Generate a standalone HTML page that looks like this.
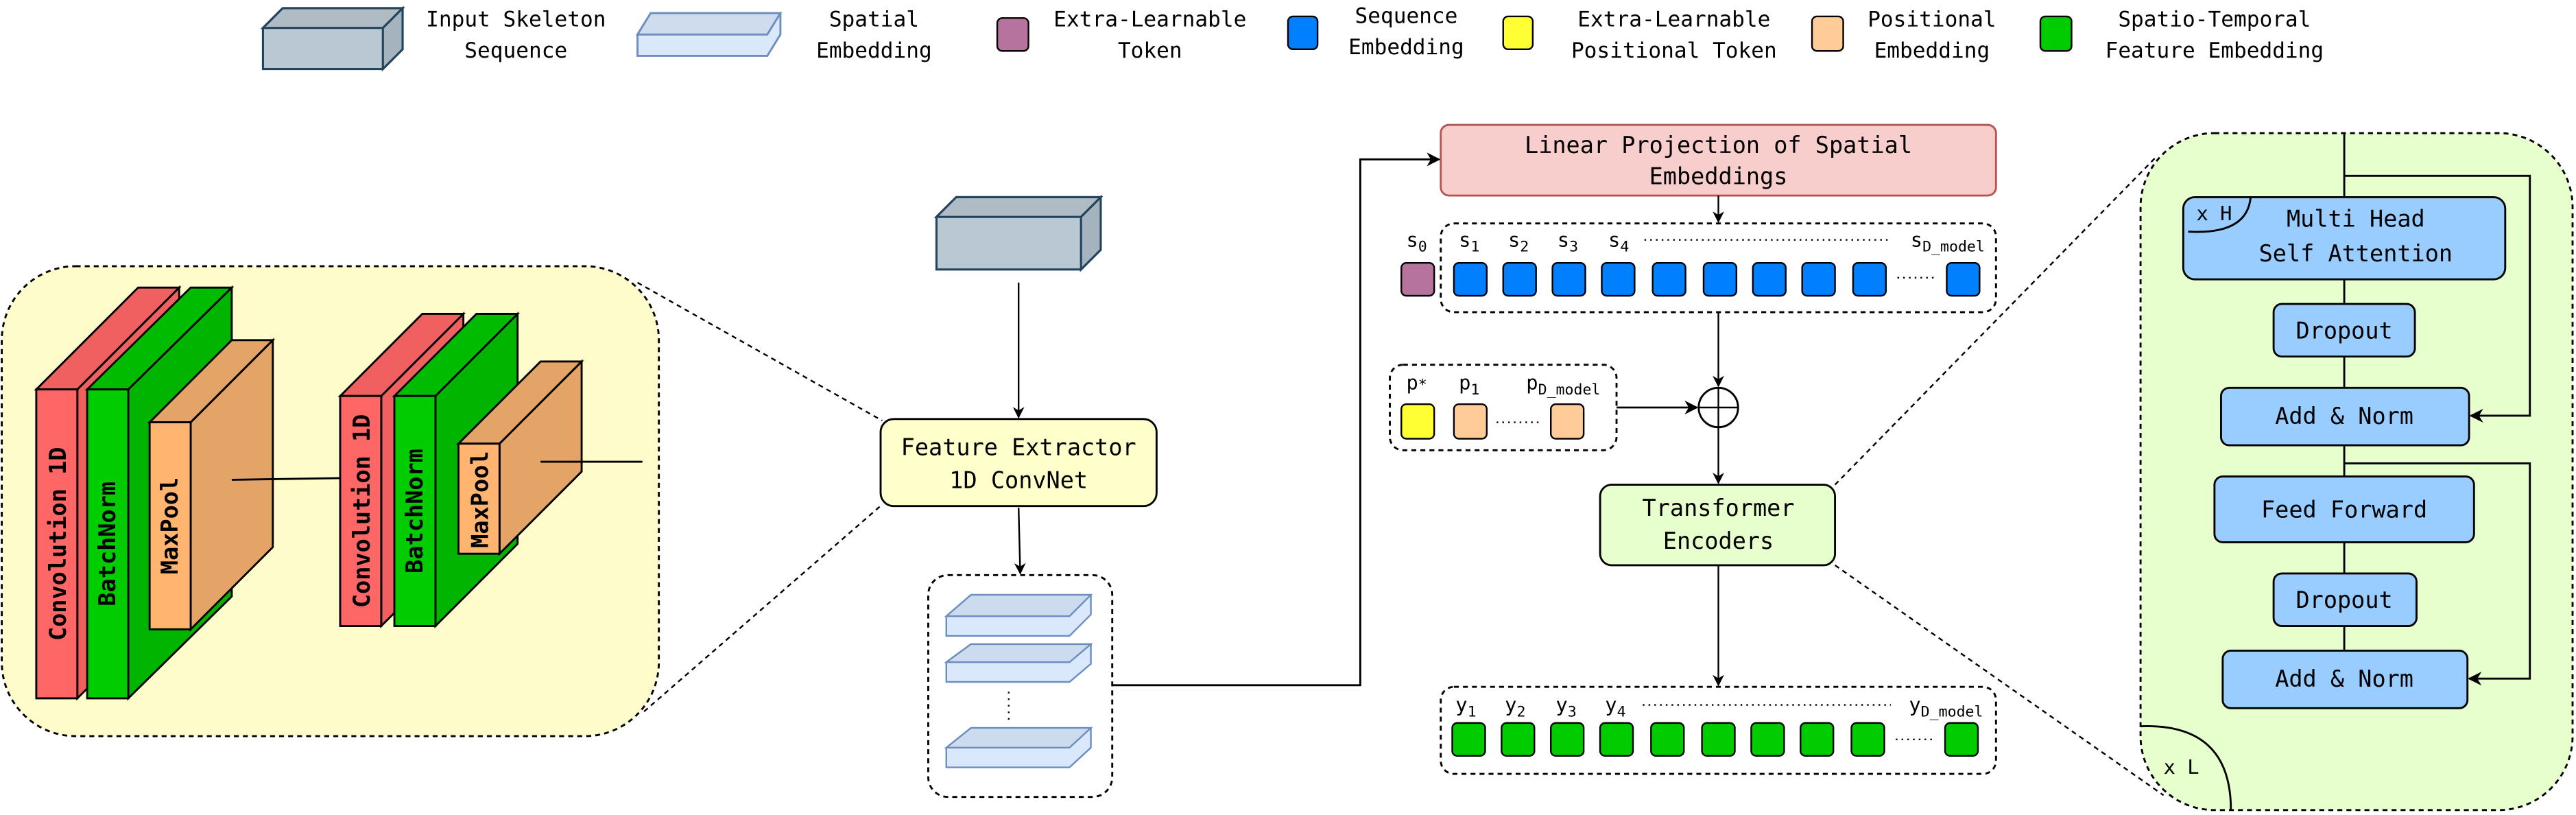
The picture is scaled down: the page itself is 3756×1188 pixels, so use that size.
<!DOCTYPE html>
<html><head><meta charset="utf-8"><style>html,body{margin:0;padding:0;background:#fff}svg{display:block}</style></head>
<body>
<svg width="3756" height="1188" viewBox="0 0 1568 496" xmlns="http://www.w3.org/2000/svg" font-family="'DejaVu Sans Mono','Liberation Mono',monospace">
<defs>
<marker id="a" viewBox="0 0 10 10" refX="9" refY="5" markerWidth="7" markerHeight="7" orient="auto"><path d="M0,0 L10,5 L0,10 L3,5 z" fill="#000"/></marker>
</defs>
<g font-size="13" text-anchor="middle" fill="#000">
<polygon points="160,17 172,5 245,5 245,30 233,42 160,42" fill="#bac8d3" stroke="#23445d" stroke-width="1.3"/>
<polygon points="160,17 172,5 245,5 233,17" fill="#b0bcc5" stroke="#23445d" stroke-width="1.3"/>
<polygon points="233,17 245,5 245,30 233,42" fill="#a5b3be" stroke="#23445d" stroke-width="1.3"/>
<text x="314" y="16">Input Skeleton</text><text x="314" y="35">Sequence</text>
<polygon points="388,21 396,8 475,8 475,21 467,34 388,34" fill="#dae8fc" stroke="#6c8ebf" stroke-width="1.2"/>
<polygon points="388,21 396,8 475,8 467,21" fill="#cfdcee" stroke="#6c8ebf" stroke-width="1.2"/>
<text x="532" y="16">Spatial</text><text x="532" y="35">Embedding</text>
<rect x="607" y="11" width="19" height="20" rx="3" fill="#b5739d" stroke="#000"/>
<text x="700" y="16">Extra-Learnable</text><text x="700" y="35">Token</text>
<rect x="784" y="10" width="18" height="20" rx="3" fill="#007fff" stroke="#000"/>
<text x="856" y="14">Sequence</text><text x="856" y="33">Embedding</text>
<rect x="915" y="10" width="18" height="20" rx="3" fill="#ffff33" stroke="#000"/>
<text x="1019" y="16">Extra-Learnable</text><text x="1019" y="35">Positional Token</text>
<rect x="1103" y="10" width="19" height="21" rx="3" fill="#ffcc99" stroke="#000"/>
<text x="1176" y="16">Positional</text><text x="1176" y="35">Embedding</text>
<rect x="1242" y="10" width="19" height="21" rx="3" fill="#00cc00" stroke="#000"/>
<text x="1348" y="16">Spatio-Temporal</text><text x="1348" y="35">Feature Embedding</text>
</g>

<rect x="1" y="162" width="400" height="286" rx="45" fill="#fffccc" stroke="#000" stroke-dasharray="3,2.5" stroke-width="1.2"/>
<line x1="388" y1="172" x2="537" y2="256" stroke="#000" stroke-dasharray="3,2.5"/>
<line x1="392" y1="433" x2="537" y2="307" stroke="#000" stroke-dasharray="3,2.5"/>
<g stroke="#000" stroke-width="1.2">
<polygon points="47,237 109,175 109,363 47,425" fill="#f06060"/>
<polygon points="22,237 84,175 109,175 47,237" fill="#f06060"/>
<rect x="22" y="237" width="25" height="188" fill="#ff6666"/>
<polygon points="78,237 141,175 141,363 78,425" fill="#00b400"/>
<polygon points="53,237 116,175 141,175 78,237" fill="#00bb00"/>
<rect x="53" y="237" width="25" height="188" fill="#00cc00"/>
<polygon points="116,257 166,207 166,333 116,383" fill="#e4a468"/>
<polygon points="91,257 141,207 166,207 116,257" fill="#e4a468"/>
<rect x="91" y="257" width="25" height="126" fill="#ffb570"/>
<polygon points="232,241 282,191 282,331 232,381" fill="#f06060"/>
<polygon points="207,241 257,191 282,191 232,241" fill="#f06060"/>
<rect x="207" y="241" width="25" height="140" fill="#ff6666"/>
<polygon points="265,241 315,191 315,331 265,381" fill="#00b400"/>
<polygon points="240,241 290,191 315,191 265,241" fill="#00bb00"/>
<rect x="240" y="241" width="25" height="140" fill="#00cc00"/>
<polygon points="304,270 354,220 354,287 304,337" fill="#e4a468"/>
<polygon points="279,270 329,220 354,220 304,270" fill="#e4a468"/>
<rect x="279" y="270" width="25" height="67" fill="#ffb570"/>
</g>
<line x1="141" y1="292" x2="207" y2="291" stroke="#000" stroke-width="1.2"/>
<line x1="329" y1="281" x2="391" y2="281" stroke="#000" stroke-width="1.2"/>
<g font-size="14" font-weight="bold" fill="#000">
<text transform="translate(40,331) rotate(-90)" text-anchor="middle">Convolution 1D</text>
<text transform="translate(70,331) rotate(-90)" text-anchor="middle">BatchNorm</text>
<text transform="translate(108,320) rotate(-90)" text-anchor="middle">MaxPool</text>
<text transform="translate(225,311) rotate(-90)" text-anchor="middle">Convolution 1D</text>
<text transform="translate(257,311) rotate(-90)" text-anchor="middle">BatchNorm</text>
<text transform="translate(297,304) rotate(-90)" text-anchor="middle">MaxPool</text>
</g>

<polygon points="570,132 582,120 670,120 670,152 658,164 570,164" fill="#bac8d3" stroke="#23445d" stroke-width="1.3"/>
<polygon points="570,132 582,120 670,120 658,132" fill="#b0bcc5" stroke="#23445d" stroke-width="1.3"/>
<polygon points="658,132 670,120 670,152 658,164" fill="#a5b3be" stroke="#23445d" stroke-width="1.3"/>
<line x1="620" y1="172" x2="620" y2="254" stroke="#000" marker-end="url(#a)"/>
<rect x="536" y="255" width="168" height="53" rx="8" fill="#ffffcc" stroke="#000" stroke-width="1.2"/>
<text x="620" y="277" font-size="14" text-anchor="middle">Feature Extractor</text>
<text x="620" y="297" font-size="14" text-anchor="middle">1D ConvNet</text>
<line x1="620" y1="309" x2="621" y2="349" stroke="#000" marker-end="url(#a)"/>
<rect x="565" y="350" width="112" height="135" rx="12" fill="#fff" stroke="#000" stroke-dasharray="3,2.5" stroke-width="1.2"/>
<g stroke="#6c8ebf" stroke-width="1">
<polygon points="576,375 591,362 664,362 664,374 651,387 576,387" fill="#dae8fc"/>
<polygon points="576,375 591,362 664,362 651,375" fill="#cddbee"/>
<polygon points="576,403 591,392 664,392 664,404 651,415 576,415" fill="#dae8fc"/>
<polygon points="576,403 591,392 664,392 651,403" fill="#cddbee"/>
<polygon points="576,455 591,443 664,443 664,455 651,467 576,467" fill="#dae8fc"/>
<polygon points="576,455 591,443 664,443 651,455" fill="#cddbee"/>
</g>
<line x1="614" y1="421" x2="614" y2="439" stroke="#000" stroke-dasharray="1,3"/>
<polyline points="677,417 828,417 828,97 876,97" fill="none" stroke="#000" stroke-width="1.2" marker-end="url(#a)"/>

<rect x="877" y="76" width="338" height="43" rx="5" fill="#f8cecc" stroke="#b85450" stroke-width="1.2"/>
<text x="1046" y="93" font-size="14" text-anchor="middle">Linear Projection of Spatial</text>
<text x="1046" y="112" font-size="14" text-anchor="middle">Embeddings</text>
<line x1="1046" y1="119" x2="1046" y2="135" stroke="#000" marker-end="url(#a)"/>
<rect x="877" y="136" width="338" height="54" rx="8" fill="#fff" stroke="#000" stroke-dasharray="3,2.5" stroke-width="1.2"/>
<rect x="853" y="160" width="20" height="20" rx="3" fill="#b5739d" stroke="#000"/>
<g fill="#007fff" stroke="#000">
<rect x="885" y="160" width="20" height="20" rx="3"/><rect x="915" y="160" width="20" height="20" rx="3"/><rect x="945" y="160" width="20" height="20" rx="3"/><rect x="975" y="160" width="20" height="20" rx="3"/><rect x="1006" y="160" width="20" height="20" rx="3"/><rect x="1037" y="160" width="20" height="20" rx="3"/><rect x="1067" y="160" width="20" height="20" rx="3"/><rect x="1097" y="160" width="20" height="20" rx="3"/><rect x="1128" y="160" width="20" height="20" rx="3"/><rect x="1185" y="160" width="20" height="20" rx="3"/>
</g>
<line x1="1155" y1="169" x2="1177" y2="169" stroke="#000" stroke-dasharray="1,2.5"/>
<line x1="1001" y1="146" x2="1151" y2="146" stroke="#000" stroke-dasharray="1,2.5"/>
<g font-size="12">
<text x="856" y="150">s<tspan font-size="9" dy="3">0</tspan></text>
<text x="888" y="150">s<tspan font-size="9" dy="3">1</tspan></text>
<text x="918" y="150">s<tspan font-size="9" dy="3">2</tspan></text>
<text x="948" y="150">s<tspan font-size="9" dy="3">3</tspan></text>
<text x="979" y="150">s<tspan font-size="9" dy="3">4</tspan></text>
<text x="1163" y="150">s<tspan font-size="9" dy="3">D_model</tspan></text>
</g>
<line x1="1046" y1="190" x2="1046" y2="235" stroke="#000" marker-end="url(#a)"/>
<circle cx="1046" cy="248" r="12" fill="#fff" stroke="#000" stroke-width="1.2"/>
<line x1="1034" y1="248" x2="1058" y2="248" stroke="#000"/>
<line x1="1046" y1="236" x2="1046" y2="260" stroke="#000"/>
<rect x="846" y="222" width="138" height="52" rx="8" fill="#fff" stroke="#000" stroke-dasharray="3,2.5" stroke-width="1.2"/>
<rect x="853" y="246" width="20" height="21" rx="3" fill="#ffff33" stroke="#000"/>
<rect x="885" y="246" width="20" height="21" rx="3" fill="#ffcc99" stroke="#000"/>
<rect x="944" y="246" width="20" height="21" rx="3" fill="#ffcc99" stroke="#000"/>
<line x1="911" y1="257" x2="939" y2="257" stroke="#000" stroke-dasharray="1,2.5"/>
<g font-size="12">
<text x="856" y="237">p<tspan font-size="9">*</tspan></text>
<text x="888" y="237">p<tspan font-size="9" dy="3">1</tspan></text>
<text x="929" y="237">p<tspan font-size="9" dy="3">D_model</tspan></text>
</g>
<line x1="984" y1="248" x2="1033" y2="248" stroke="#000" stroke-width="1.2" marker-end="url(#a)"/>
<line x1="1046" y1="260" x2="1046" y2="294" stroke="#000" marker-end="url(#a)"/>
<rect x="974" y="295" width="143" height="49" rx="7" fill="#e6ffcc" stroke="#000" stroke-width="1.2"/>
<text x="1046" y="314" font-size="14" text-anchor="middle">Transformer</text>
<text x="1046" y="334" font-size="14" text-anchor="middle">Encoders</text>
<line x1="1046" y1="344" x2="1046" y2="417" stroke="#000" marker-end="url(#a)"/>
<rect x="877" y="418" width="338" height="53" rx="8" fill="#fff" stroke="#000" stroke-dasharray="3,2.5" stroke-width="1.2"/>
<g fill="#00cc00" stroke="#000">
<rect x="884" y="440" width="20" height="20" rx="3"/><rect x="914" y="440" width="20" height="20" rx="3"/><rect x="944" y="440" width="20" height="20" rx="3"/><rect x="974" y="440" width="20" height="20" rx="3"/><rect x="1005" y="440" width="20" height="20" rx="3"/><rect x="1036" y="440" width="20" height="20" rx="3"/><rect x="1066" y="440" width="20" height="20" rx="3"/><rect x="1096" y="440" width="20" height="20" rx="3"/><rect x="1127" y="440" width="20" height="20" rx="3"/><rect x="1184" y="440" width="20" height="20" rx="3"/>
</g>
<line x1="1154" y1="450" x2="1176" y2="450" stroke="#000" stroke-dasharray="1,2.5"/>
<line x1="1000" y1="429" x2="1151" y2="429" stroke="#000" stroke-dasharray="1,2.5"/>
<g font-size="12">
<text x="886" y="433">y<tspan font-size="9" dy="3">1</tspan></text>
<text x="916" y="433">y<tspan font-size="9" dy="3">2</tspan></text>
<text x="947" y="433">y<tspan font-size="9" dy="3">3</tspan></text>
<text x="977" y="433">y<tspan font-size="9" dy="3">4</tspan></text>
<text x="1162" y="433">y<tspan font-size="9" dy="3">D_model</tspan></text>
</g>

<line x1="1117" y1="295" x2="1313" y2="95" stroke="#000" stroke-dasharray="3,2.5"/>
<line x1="1117" y1="344" x2="1317" y2="484" stroke="#000" stroke-dasharray="3,2.5"/>
<rect x="1303" y="81" width="263" height="412" rx="45" fill="#e6ffcc" stroke="#000" stroke-dasharray="3,2.5" stroke-width="1.2"/>
<line x1="1427" y1="81" x2="1427" y2="396" stroke="#000" stroke-width="1.2"/>
<polyline points="1427,107 1540,107 1540,253 1504,253" fill="none" stroke="#000" stroke-width="1.2" marker-end="url(#a)"/>
<polyline points="1427,282 1540,282 1540,413 1503,413" fill="none" stroke="#000" stroke-width="1.2" marker-end="url(#a)"/>
<g fill="#99ccff" stroke="#000" stroke-width="1.2">
<rect x="1329" y="120" width="196" height="50" rx="7"/>
<rect x="1384" y="185" width="86" height="32" rx="5"/>
<rect x="1352" y="236" width="151" height="35" rx="5"/>
<rect x="1348" y="290" width="158" height="40" rx="5"/>
<rect x="1384" y="349" width="87" height="32" rx="5"/>
<rect x="1353" y="396" width="149" height="35" rx="5"/>
</g>
<g font-size="14" text-anchor="middle">
<text x="1434" y="138">Multi Head</text>
<text x="1434" y="159">Self Attention</text>
<text x="1427" y="206">Dropout</text>
<text x="1427" y="258">Add &amp; Norm</text>
<text x="1427" y="315">Feed Forward</text>
<text x="1427" y="370">Dropout</text>
<text x="1427" y="418">Add &amp; Norm</text>
</g>
<path d="M1332,141 Q1368,143 1370,120" fill="none" stroke="#000" stroke-width="1.2"/>
<text x="1337" y="134" font-size="12">x H</text>
<path d="M1303,442 Q1358,440 1358,493" fill="none" stroke="#000" stroke-width="1.2"/>
<text x="1317" y="471" font-size="12">x L</text>
</svg>
</body></html>
